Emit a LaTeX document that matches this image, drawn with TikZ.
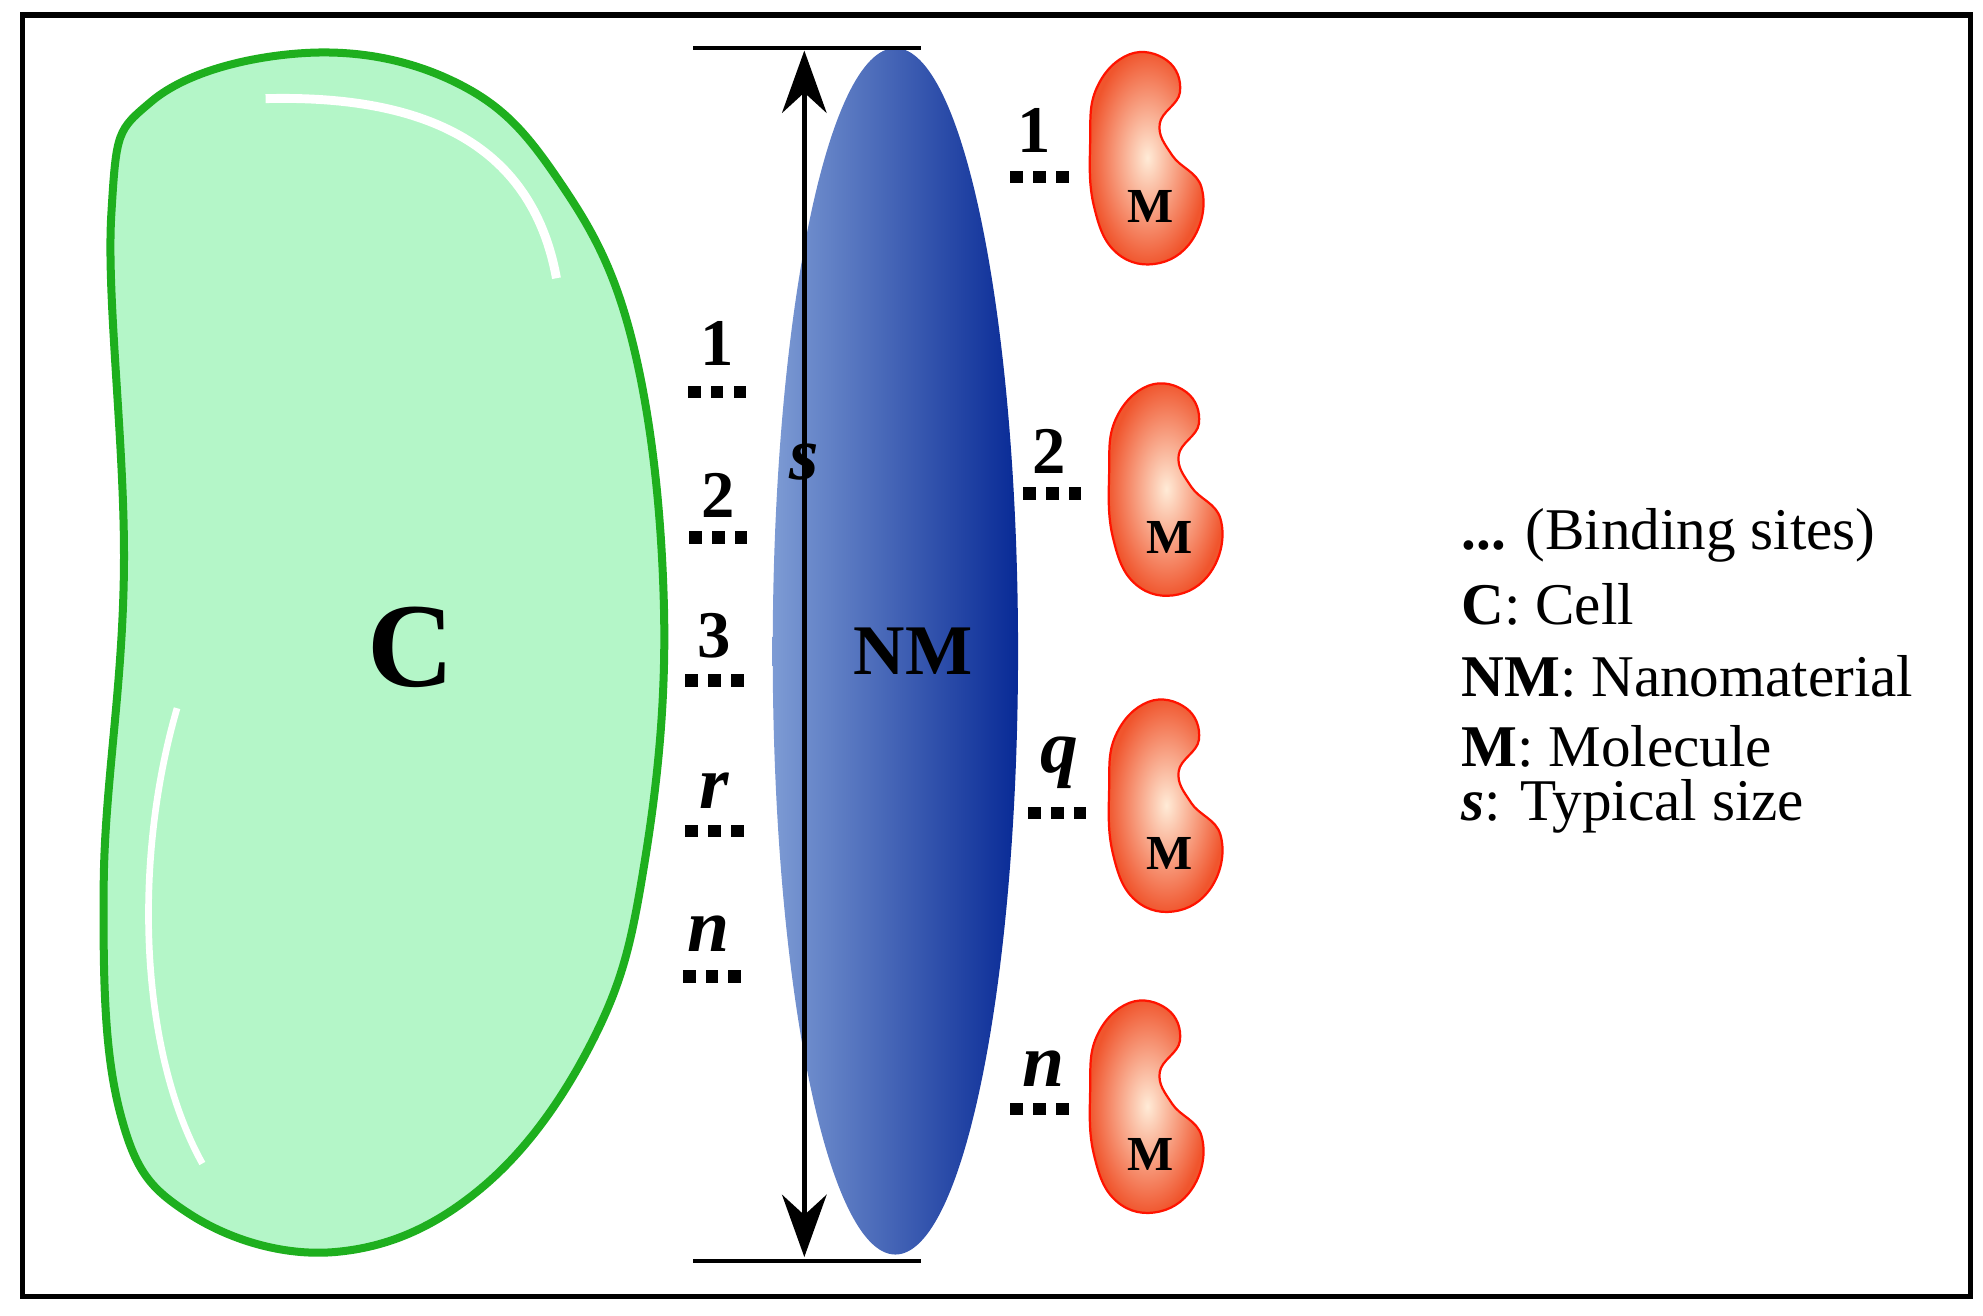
\documentclass[tikz,border=0pt]{standalone}
\usepackage{fontspec}
\setmainfont{Liberation Serif}
\usetikzlibrary{arrows.meta}
\definecolor{cellfill}{RGB}{180,246,200}
\definecolor{cellline}{RGB}{30,175,30}
\definecolor{nmlight}{RGB}{125,155,212}
\definecolor{nmdark}{RGB}{8,42,150}
\definecolor{molout}{RGB}{240,85,45}
\definecolor{molin}{RGB}{255,235,215}
\tikzset{
 lbl/.style={font=\bfseries\fontsize{15}{15}\selectfont,inner sep=0pt},
 ilbl/.style={font=\bfseries\itshape\fontsize{17}{17}\selectfont,inner sep=0pt},
 dotc/.style={fill=black},
 leg/.style={font=\fontsize{13.3}{13.3}\selectfont,anchor=west,inner sep=0pt},
}
\newcommand{\bdots}[2]{\foreach \dx in {-18,0,18}{\fill[dotc] (#1+\dx-5,#2-5) rectangle (#1+\dx+5,#2+5);}}
\newcommand{\molecule}[3]{%
 \begin{scope}[shift={(#1,#2)}]
 \shade[inner color=molin,outer color=molout,draw=red!85!orange,line width=0.5pt]
  plot[smooth cycle,tension=0.7] coordinates{(-12,-85)(18,-80)(28,-55)(12,-30)(22,-5)(45,20)(40,58)(12,80)(-22,72)(-40,35)(-43,-15)(-38,-58)};
 \node[font=\bfseries\fontsize{11}{11}\selectfont,inner sep=0pt] (#3) at (5,35) {M};
 \end{scope}}
\begin{document}
\begin{tikzpicture}[x=0.01cm,y=-0.01cm]
\useasboundingbox (0,0) rectangle (1568,1040);
\draw[line width=1.2pt] (18,12) rectangle (1558,1025);
% cell
\filldraw[fill=cellfill,draw=cellline,line width=1.8pt]
 plot[smooth cycle,tension=0.65] coordinates{(240,42)(360,65)(440,140)(500,270)(525,480)(510,680)(470,820)(380,940)(265,990)(150,960)(95,880)(82,700)(98,450)(88,170)(120,80)};
\draw[white,line width=2pt] (210,78) .. controls (330,75) and (420,110) .. (440,220);
\draw[white,line width=1.5pt] (140,560) .. controls (105,680) and (110,830) .. (160,920);
\node[font=\bfseries\fontsize{27}{27}\selectfont,inner sep=0pt] (C) at (325,512) {C};
% nanomaterial
\shade[left color=nmlight,right color=nmdark] (708,515) ellipse (97 and 477);
\node[font=\bfseries\fontsize{16}{16}\selectfont,inner sep=0pt] (NM) at (722,515) {NM};
\coordinate (top) at (636,40);
\coordinate (bot) at (636,994);
\draw[line width=1pt] (548,38) -- (728,38) (548,997) -- (728,997);
\draw[line width=1.2pt,{Stealth[length=14pt,width=10pt]}-{Stealth[length=14pt,width=10pt]}] (top) -- (bot);
\node[ilbl] (s) at (636,365) {s};
% left binding sites
\bdots{567}{310}\node[lbl] (l1) at (567,272) {1};
\bdots{568}{425}\node[lbl] (l2) at (568,392) {2};
\bdots{565}{538}\node[lbl] (l3) at (565,503) {3};
\bdots{565}{657}\node[ilbl] (lr) at (565,625) {r};
\bdots{563}{772}\node[ilbl] (ln) at (560,738) {n};
% right
\bdots{822}{140}\node[lbl] (r1) at (818,103) {1};
\bdots{832}{390}\node[lbl] (r2) at (830,357) {2};
\bdots{836}{643}\node[ilbl] (rq) at (838,603) {q};
\bdots{822}{877}\node[ilbl] (rn) at (825,845) {n};
\molecule{905}{128}{m1}
\molecule{920}{390}{m2}
\molecule{920}{640}{m3}
\molecule{905}{878}{m4}
% legend
\node[leg] (g1) at (1155,423) {\textbf{...} (Binding sites)};
\node[leg] (g2) at (1155,478) {\textbf{C}: Cell};
\node[leg] (g3) at (1155,535) {\textbf{NM}: Nanomaterial};
\node[leg] (g4) at (1155,590) {\textbf{M}: Molecule};
\node[leg] (g5) at (1155,638) {\textbf{\textit{s}}: Typical size};
\end{tikzpicture}
\end{document}
